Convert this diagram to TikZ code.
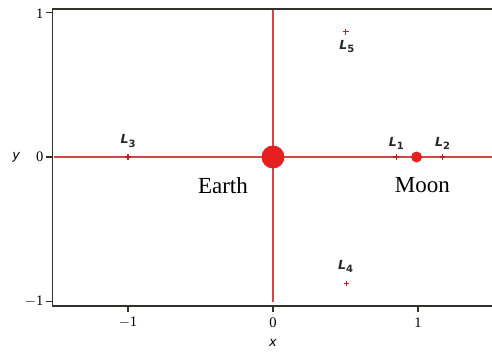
\documentclass[tikz,border=0pt]{standalone}
\usepackage{fontspec}
\setmainfont{Liberation Serif}
\newfontfamily\labfont{DejaVu Sans}
\definecolor{axred}{RGB}{214,70,70}
\definecolor{dotred}{RGB}{228,32,32}
\definecolor{markred}{RGB}{200,30,40}
\definecolor{frame}{RGB}{50,50,45}
\definecolor{labgray}{RGB}{40,40,40}
\newcommand{\lsub}[1]{L\raisebox{-0.45ex}{\fontsize{10}{11}\selectfont\upshape #1}}
\begin{document}
\begin{tikzpicture}[x=145pt,y=144.5pt,
  framel/.style={draw=frame,line width=1.6pt},
  tickl/.style={draw=frame,line width=1.1pt},
  axl/.style={draw=axred,line width=1.1pt},
  lpt/.style={inner sep=0pt,minimum size=0pt},
  lmark/.style={draw=markred,line width=1.1pt},
  llab/.style={font=\labfont\bfseries\itshape\fontsize{12.5}{15}\selectfont,text=labgray,inner sep=1pt},
  ticklab/.style={font=\fontsize{14.5}{16}\selectfont,inner sep=1pt},
  biglab/.style={font=\fontsize{23}{26}\selectfont,inner sep=0pt}]
\useasboundingbox (-273pt,-194pt) rectangle (219pt,157pt);
% frame
\coordinate (tl) at (-1.521,1.024);
\coordinate (tr) at (1.52,1.024);
\coordinate (bl) at (-1.521,-1.031);
\coordinate (br) at (1.52,-1.031);
\draw[framel] (tr) -- (tl) -- (bl) -- (br);
% red axes
\coordinate (hl) at (-1.51,0);
\coordinate (hr) at (1.52,0);
\coordinate (vt) at (0,1.02);
\coordinate (vb) at (0,-1.0);
\draw[axl] (hl) -- (hr);
\draw[axl] (vb) -- (vt);
% y ticks
\foreach \v/\n in {1/yt1,0/yt0,-1/ytm}{
  \coordinate (\n a) at (-1.521,\v);
  \coordinate (\n b) at (-1.565,\v);
  \draw[tickl] (\n a) -- (\n b);
}
\node[ticklab,anchor=east] (ylab1) at (-1.575,0.995) {1};
\node[ticklab,anchor=east] (ylab0) at (-1.575,0) {0};
\node[ticklab,anchor=east] (ylabm) at (-1.575,-1.0) {$-$1};
\node[font=\labfont\itshape\fontsize{13}{15}\selectfont] (ylab) at (-1.77,0) {y};
% x ticks
\foreach \v/\n in {-1/xtm,0/xt0,1/xt1}{
  \coordinate (\n a) at (\v,-1.031);
  \coordinate (\n b) at (\v,-1.075);
  \draw[tickl] (\n a) -- (\n b);
}
\node[ticklab] (xlabm) at (-1,-1.145) {$-$1};
\node[ticklab] (xlab0) at (0,-1.145) {0};
\node[ticklab] (xlab1) at (1,-1.145) {1};
\node[font=\labfont\itshape\fontsize{13}{15}\selectfont] (xlab) at (0,-1.29) {x};
% bodies
\node[circle,fill=dotred,inner sep=0pt,minimum size=23pt] (earth) at (0,0) {};
\node[circle,fill=dotred,inner sep=0pt,minimum size=11pt] (moon) at (0.99,0) {};
\node[biglab] (earthlab) at (-0.345,-0.2) {Earth};
\node[biglab] (moonlab) at (1.03,-0.195) {Moon};
% Lagrange points
\foreach \n/\px/\py in {L1/0.85/0,L2/1.17/0,L3/-1/0,L4/0.508/-0.876,L5/0.503/0.866}{
  \node[lpt] (\n) at (\px,\py) {};
  \draw[lmark] ([xshift=-2.8pt]\n.center) -- ([xshift=2.8pt]\n.center);
  \draw[lmark] ([yshift=-2.8pt]\n.center) -- ([yshift=2.8pt]\n.center);
}
\node[llab] (L1lab) at ([yshift=14pt]L1) {\lsub{1}};
\node[llab] (L2lab) at ([yshift=14pt]L2) {\lsub{2}};
\node[llab] (L3lab) at ([yshift=16pt]L3) {\lsub{3}};
\node[llab] (L4lab) at ([xshift=-1pt,yshift=17pt]L4) {\lsub{4}};
\node[llab] (L5lab) at ([xshift=1pt,yshift=-15pt]L5) {\lsub{5}};
\end{tikzpicture}
\end{document}
